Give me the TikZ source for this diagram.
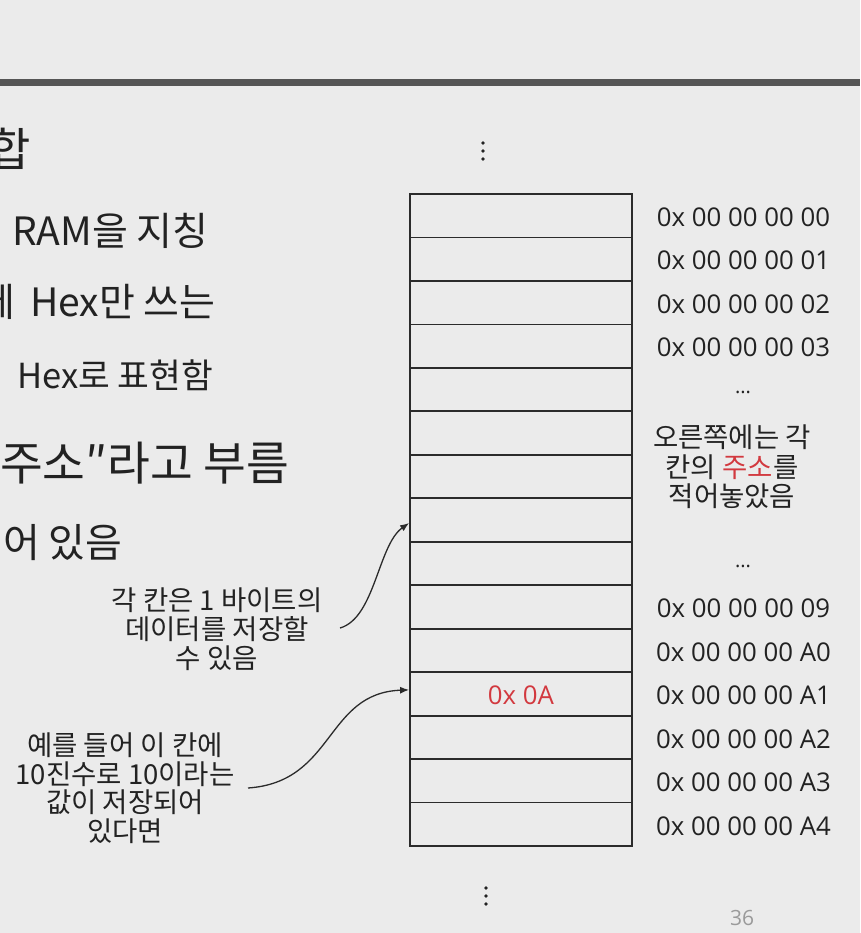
\documentclass[tikz,border=0pt]{standalone}
\usepackage{fontspec}
\setmainfont{Open Sans}
\newfontfamily\kr{Noto Sans CJK KR}
\usetikzlibrary{arrows.meta}
\definecolor{bgc}{HTML}{EBEBEB}
\definecolor{txt}{HTML}{222222}
\definecolor{linec}{HTML}{2B2B2B}
\definecolor{topc}{HTML}{555555}
\definecolor{redc}{HTML}{D2393F}
\definecolor{pagec}{HTML}{9A9A9A}
\tikzset{
  cell/.style={draw=linec, line width=1.8pt, minimum width=222pt, minimum height=43.4667pt, inner sep=0pt},
  addr/.style={font=\fontsize{25.8}{29}\selectfont, text=txt, inner sep=0pt},
  callout/.style={align=center, inner sep=0pt, text=txt},
  conn/.style={draw=linec, line width=1.3pt, -{Latex[length=9pt,width=7pt]}},
  big/.style={anchor=base west, inner sep=0pt, text=txt},
  vdot/.style={fill=txt, circle, inner sep=0pt, minimum size=3.6pt}
}
\begin{document}
\begin{tikzpicture}[x=1pt,y=-1pt]
\fill[bgc] (0,0) rectangle (860,933);
\useasboundingbox (0,0) rectangle (860,933);
\clip (0,0) rectangle (860,933);
% top rule
\draw[topc, line width=7pt] (0,82.5) -- (860,82.5);
% left heading texts (cut off at left edge)
\node[inner sep=0pt, anchor=base east, text=txt, font=\kr\fontsize{46}{50}\selectfont] (h0) at (31,167) {합};
\node[big, font=\kr\fontsize{39}{44}\selectfont] (h1) at (12,245) {RAM을 지칭};
\node[inner sep=0pt, anchor=base east, text=txt, font=\kr\fontsize{39}{44}\selectfont] (h2a) at (16,316) {에};
\node[big, font=\kr\fontsize{39}{44}\selectfont] (h2) at (30,316) {Hex만 쓰는};
\node[big, font=\kr\fontsize{34.5}{40}\selectfont] (h3) at (17,388) {Hex로 표현함};
\node[big, font=\kr\fontsize{46.5}{50}\selectfont] (h4) at (0,480) {주소″라고 부름};
\node[big, font=\kr\fontsize{40}{46}\selectfont] (h5) at (3,557) {어 있음};
% memory cells
\foreach \i in {1,...,15}
  \node[cell] (c\i) at (521,{194+43.4667*(\i-0.5)}) {};
\node[addr, text=redc] (val) at ([yshift=-1pt]c12.center) {0x 0A};
% addresses
\foreach \i/\t in {1/00,2/01,3/02,4/03,10/09,11/A0,12/A1,13/A2,14/A3,15/A4}
  \node[addr] (a\i) at (743.5,{194+43.4667*(\i-0.5)+1.5}) {0x 00 00 00 \t};
\node[addr, font=\fontsize{20}{22}\selectfont] (e1) at (743,392) {...};
\node[addr, font=\fontsize{20}{22}\selectfont] (e2) at (743,566) {...};
\node[callout, font=\kr\fontsize{27.5}{29.5}\selectfont] (t3) at (732,467)
  {오른쪽에는 각\\칸의 \textcolor{redc}{주소}를\\적어놓았음};
% vertical dots
\node[vdot] (d1) at (483,143) {};
\node[vdot] (d2) at (483,151) {};
\node[vdot] (d3) at (483,159) {};
\node[vdot] (d4) at (486,888) {};
\node[vdot] (d5) at (486,896) {};
\node[vdot] (d6) at (486,904) {};
% callouts
\node[callout, font=\kr\fontsize{27.5}{29}\selectfont] (t1) at (217,629)
  {각 칸은 1 바이트의\\데이터를 저장할\\수 있음};
\node[callout, font=\kr\fontsize{27.5}{28.5}\selectfont] (t2) at (125,788)
  {예를 들어 이 칸에\\10진수로 10이라는\\값이 저장되어\\있다면};
\coordinate (s1) at (340,628);
\coordinate (s2) at (248,788);
\draw[conn] (s1) .. controls (375,618) and (378,545) .. ([yshift=-3pt]c8.west);
\draw[conn] (s2) .. controls (335,782) and (325,693) .. ([yshift=4pt]c12.west);
% page number
\node[inner sep=0pt, text=pagec, font=\fontsize{21}{24}\selectfont] (pg) at (742,918) {36};
\end{tikzpicture}
\end{document}
